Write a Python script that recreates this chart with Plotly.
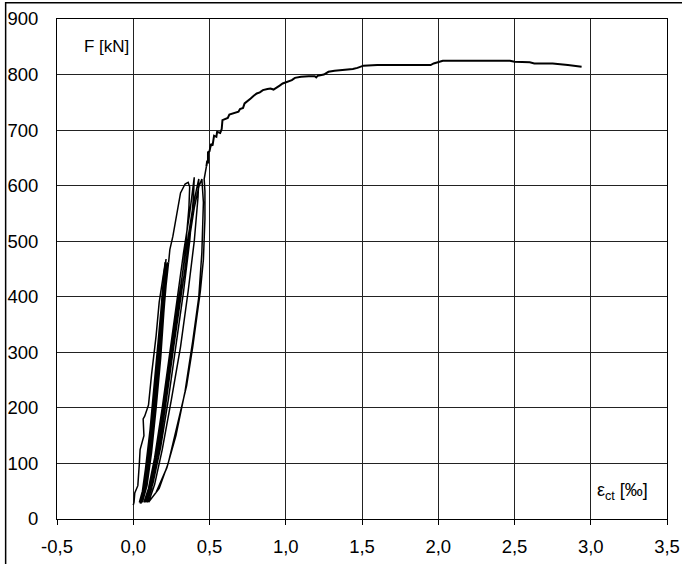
import plotly.graph_objects as go

# Initial loading
load_x = [0.00, 0.005, 0.01, 0.03, 0.04, 0.045, 0.07, 0.065, 0.075, 0.10, 0.12, 0.14, 0.15, 0.17, 0.19, 0.205, 0.21]
load_y = [25, 30, 47, 60, 100, 125, 150, 180, 185, 205, 260, 302, 330, 390, 425, 450, 462]

# Cycles between ~30 and ~460 kN
cycA_x = [0.21, 0.195, 0.17, 0.14, 0.11, 0.08, 0.06, 0.04, 0.07, 0.10, 0.13, 0.16, 0.18, 0.20, 0.215,
          0.20, 0.175, 0.145, 0.115, 0.085, 0.065, 0.045, 0.075, 0.105, 0.135, 0.165, 0.185, 0.205, 0.22,
          0.21, 0.18, 0.15, 0.12, 0.09, 0.07, 0.05, 0.08, 0.11, 0.14, 0.17, 0.19, 0.21, 0.225,
          0.212, 0.185, 0.155, 0.125, 0.095, 0.072, 0.055, 0.085, 0.115, 0.145, 0.175, 0.195, 0.215, 0.23,
          0.215, 0.19, 0.16, 0.13, 0.10, 0.075, 0.06, 0.09, 0.12, 0.15, 0.18, 0.20, 0.22, 0.232]
cycA_y = [462, 420, 340, 250, 160, 90, 50, 30, 60, 120, 200, 290, 370, 440, 468,
          420, 340, 250, 160, 90, 50, 28, 60, 120, 200, 290, 370, 440, 460,
          420, 340, 250, 160, 90, 50, 28, 60, 120, 200, 290, 370, 440, 462,
          420, 340, 250, 160, 90, 50, 30, 60, 120, 200, 290, 370, 440, 458,
          420, 340, 250, 160, 90, 50, 30, 60, 120, 200, 290, 370, 440, 462]

# Cycles between ~30 and ~600 kN
cycB_x = [0.232, 0.24, 0.26, 0.28, 0.31, 0.34, 0.36, 0.37,
          0.365, 0.34, 0.30, 0.25, 0.20, 0.15, 0.11, 0.085, 0.07,
          0.10, 0.14, 0.19, 0.24, 0.29, 0.33, 0.37, 0.39, 0.40,
          0.395, 0.37, 0.33, 0.28, 0.23, 0.18, 0.13, 0.10, 0.08,
          0.11, 0.15, 0.20, 0.25, 0.30, 0.35, 0.39, 0.42, 0.43,
          0.425, 0.40, 0.36, 0.31, 0.25, 0.19, 0.14, 0.11, 0.09,
          0.12, 0.16, 0.21, 0.26, 0.31, 0.36, 0.40, 0.43, 0.45,
          0.46, 0.45, 0.43, 0.39, 0.34, 0.28, 0.22, 0.15, 0.10,
          0.17, 0.23, 0.29, 0.35, 0.39, 0.42, 0.44, 0.46, 0.47, 0.47, 0.465, 0.48]
cycB_y = [462, 485, 509, 539, 587, 603, 606, 598,
          560, 480, 390, 290, 200, 120, 60, 35, 30,
          55, 110, 200, 300, 400, 480, 550, 595, 615,
          580, 500, 410, 310, 215, 130, 65, 38, 30,
          55, 110, 200, 300, 400, 490, 560, 600, 612,
          580, 500, 410, 310, 215, 125, 62, 38, 30,
          55, 110, 200, 300, 400, 490, 560, 598, 612,
          570, 480, 400, 320, 230, 150, 92, 48, 30,
          55, 101, 170, 240, 310, 370, 410, 467, 540, 590, 612, 635]

# Backbone after cycling
back_x = [0.48, 0.485, 0.49, 0.49, 0.50, 0.51, 0.52, 0.53, 0.545, 0.55, 0.57, 0.58, 0.585, 0.60, 0.62,
          0.63, 0.66, 0.69, 0.70, 0.72, 0.73, 0.75, 0.77, 0.79, 0.81, 0.83, 0.85, 0.88, 0.90, 0.92,
          0.94, 0.96, 0.98, 1.01, 1.04, 1.06, 1.10, 1.15, 1.19, 1.20, 1.21, 1.25, 1.28, 1.32, 1.37,
          1.41, 1.44, 1.47, 1.51, 1.60, 1.80, 1.95, 1.97, 2.00, 2.03, 2.30, 2.47, 2.50, 2.60, 2.63,
          2.75, 2.85, 2.94]
back_y = [635, 645, 640, 660, 662, 675, 672, 690, 688, 697, 695, 702, 718, 720, 722,
          728, 730, 733, 738, 740, 748, 752, 757, 762, 766, 768, 772, 774, 775, 773,
          776, 780, 784, 787, 790, 794, 796, 797, 797, 795, 798, 800, 805, 807, 808,
          809, 810, 812, 816, 817, 817, 817, 820, 823, 825, 825, 825, 823, 822, 820,
          820, 817, 814]

x_ticks = [-0.5, 0.0, 0.5, 1.0, 1.5, 2.0, 2.5, 3.0, 3.5]
x_ticktext = ["-0,5", "0,0", "0,5", "1,0", "1,5", "2,0", "2,5", "3,0", "3,5"]
y_ticks = [0, 100, 200, 300, 400, 500, 600, 700, 800, 900]

FONT = "Liberation Sans, Arial, sans-serif"

fig = go.Figure()
fig.add_trace(go.Scatter(x=load_x, y=load_y, mode="lines",
                         line=dict(color="black", width=1.5), showlegend=False))
fig.add_trace(go.Scatter(x=cycA_x, y=cycA_y, mode="lines",
                         line=dict(color="black", width=1.5), showlegend=False))
fig.add_trace(go.Scatter(x=cycB_x, y=cycB_y, mode="lines",
                         line=dict(color="black", width=1.5), showlegend=False))
fig.add_trace(go.Scatter(x=back_x, y=back_y, mode="lines",
                         line=dict(color="black", width=2), showlegend=False))

fig.update_layout(
    width=682, height=564,
    margin=dict(l=57, r=15, t=19, b=45),
    paper_bgcolor="white", plot_bgcolor="white",
    font=dict(family=FONT, size=18, color="black"),
    xaxis=dict(range=[-0.5, 3.5], tickvals=x_ticks, ticktext=x_ticktext,
               showgrid=True, gridcolor="#222", gridwidth=1,
               showline=True, linecolor="black", linewidth=1, mirror=True,
               ticks="outside", ticklen=5, tickcolor="black",
               tickfont=dict(size=18.5), zeroline=False, ticklabelstandoff=6,
               automargin=False),
    yaxis=dict(range=[0, 900], tickvals=y_ticks,
               showgrid=True, gridcolor="#222", gridwidth=1,
               showline=True, linecolor="black", linewidth=1, mirror=True,
               ticks="", tickfont=dict(size=18.5), zeroline=False,
               ticklabelstandoff=14, automargin=False),
    shapes=[dict(type="rect", xref="paper", yref="paper",
                 x0=-0.0842, x1=1.2, y0=-0.3, y1=1.0326,
                 line=dict(color="black", width=1.5), layer="below")],
    annotations=[
        dict(x=-0.335, y=851, xref="x", yref="y", text="F [kN]", showarrow=False,
             xanchor="left", yanchor="middle", font=dict(size=17)),
        dict(x=3.03, y=50, xref="x", yref="y", text="ε<sub>ct</sub> [‰]", showarrow=False,
             xanchor="left", yanchor="middle", font=dict(size=18)),
    ],
)

fig.write_html("out.html", config={"displayModeBar": False},
               post_script="document.body.style.margin='0';document.body.style.padding='0';")
